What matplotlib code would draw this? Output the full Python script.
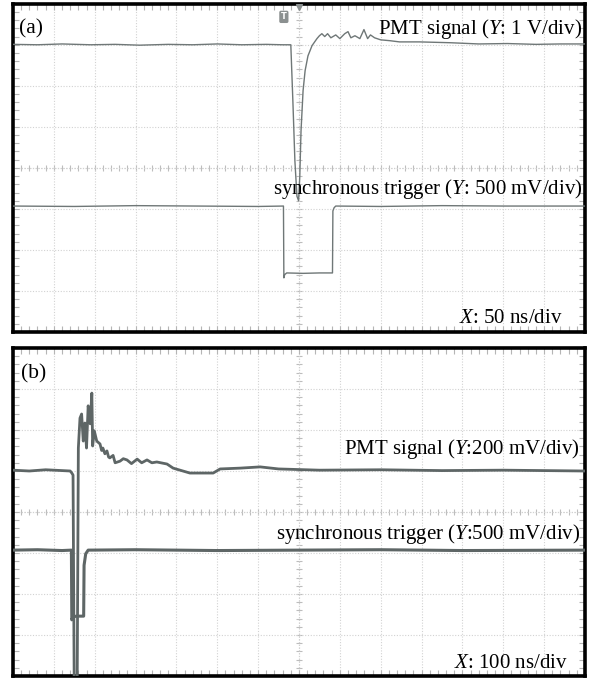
import matplotlib.pyplot as plt
import numpy as np

plt.rcParams['font.family'] = ['Liberation Serif', 'DejaVu Serif']
plt.rcParams['mathtext.fontset'] = 'custom'
plt.rcParams['mathtext.rm'] = 'Liberation Serif'
plt.rcParams['mathtext.it'] = 'Liberation Serif:italic'

# values in screen divisions (x: -7..7, y: -4..4)
pmt_a_x = [-7.0, -6.4, -5.8, -5.1, -4.5, -3.9, -3.2, -2.6, -2.0, -1.4, -0.8, -0.4,
           -0.2, -0.15, -0.1, -0.05, -0.01, 0.02, 0.05, 0.1, 0.15, 0.22, 0.32, 0.44,
           0.5, 0.56, 0.63, 0.7, 0.78, 0.9, 1.0, 1.12, 1.2, 1.27, 1.37, 1.49, 1.59,
           1.68, 1.75, 1.85, 2.0, 2.22, 2.46, 2.95, 3.7, 4.4, 5.1, 5.8, 6.4, 7.0]
pmt_a_y = [3.01, 3.0, 3.02, 3.0, 3.01, 2.99, 3.01, 3.0, 3.02, 3.0, 3.01, 3.0,
           3.0, 1.64, 0.17, -0.69, -0.8, -0.2, 0.9, 1.88, 2.37, 2.73, 2.98, 3.15,
           3.22, 3.27, 3.2, 3.27, 3.17, 3.24, 3.15, 3.27, 3.32, 3.17, 3.22, 3.15, 3.37,
           3.15, 3.24, 3.17, 3.12, 3.1, 3.07, 3.07, 3.05, 3.02, 3.03, 3.01, 3.02, 3.02]

trig_a_x = [-7.0, -5.5, -4.0, -2.5, -1.0, -0.38, -0.37, -0.35, -0.3, 0.1, 0.5, 0.82,
            0.83, 0.86, 0.9, 2.0, 3.5, 5.0, 7.0]
trig_a_y = [-0.93, -0.94, -0.92, -0.93, -0.94, -0.93, -2.68, -2.6, -2.56, -2.57, -2.56, -2.56,
            -1.05, -0.97, -0.93, -0.94, -0.92, -0.93, -0.93]

pmt_b_x = [-7.0, -6.6, -6.2, -5.8, -5.6, -5.56, -5.53, -5.5, -5.43, -5.4, -5.36, -5.32,
           -5.28, -5.24, -5.2, -5.16, -5.11, -5.07, -5.05, -5.01, -4.95, -4.87, -4.83,
           -4.8, -4.75, -4.7, -4.66, -4.63, -4.55, -4.5, -4.38, -4.3, -4.21, -4.1, -3.96,
           -3.85, -3.72, -3.6, -3.48, -3.23, -3.08, -2.91, -2.67, -2.25, -2.1, -1.93,
           -1.44, -0.95, -0.5, 0.5, 2.0, 3.5, 5.0, 7.0]
pmt_b_y = [1.02, 1.0, 1.03, 1.01, 1.0, 0.95, 0.9, -4.5, -4.5, 1.56, 2.29, 2.39,
           1.73, 2.17, 1.56, 2.59, 2.15, 2.9, 1.61, 1.98, 1.73, 1.66, 1.5,
           1.56, 1.42, 1.49, 1.34, 1.32, 1.38, 1.2, 1.24, 1.3, 1.27, 1.18, 1.29,
           1.2, 1.27, 1.2, 1.22, 1.17, 1.07, 1.02, 0.95, 0.95, 0.95, 1.05,
           1.07, 1.1, 1.05, 1.02, 1.03, 1.01, 1.02, 1.0]

trig_b_x = [-7.0, -6.4, -5.8, -5.57, -5.56, -5.53, -5.45, -5.27, -5.26, -5.22, -5.16,
            -4.0, -2.0, 0.0, 2.0, 4.0, 7.0]
trig_b_y = [-0.93, -0.92, -0.94, -0.93, -2.63, -2.56, -2.54, -2.54, -1.3, -1.02, -0.93,
            -0.92, -0.94, -0.93, -0.92, -0.94, -0.93]

fig = plt.figure(figsize=(5.9, 6.79), dpi=100)


def scope(rect):
    ax = fig.add_axes(rect)
    ax.set_xlim(-7, 7)
    ax.set_ylim(-4, 4)
    ax.set_xticks(np.arange(-7, 8, 1))
    ax.set_yticks(np.arange(-4, 5, 1))
    ax.set_xticks(np.arange(-7, 7.01, 0.2), minor=True)
    ax.set_yticks(np.arange(-4, 4.01, 0.2), minor=True)
    ax.set_xticklabels([])
    ax.set_yticklabels([])
    ax.tick_params(which='both', direction='in', length=4, width=0.8,
                   color='#b5b5b5', top=True, right=True)
    ax.grid(which='major', color='#d2d2d2', ls=(0, (1, 1.5)), lw=0.8)
    for s in ax.spines.values():
        s.set_linewidth(2.6)
        s.set_color('black')
    # centre cross with its small ticks
    ax.axhline(0, color='#c8c8c8', ls=(0, (1, 1.5)), lw=0.8, zorder=1)
    ax.axvline(0, color='#c8c8c8', ls=(0, (1, 1.5)), lw=0.8, zorder=1)
    ax.plot(np.arange(-7, 7.01, 0.2), np.zeros(71), ls='none', marker='|',
            ms=5, mew=0.8, color='#bdbdbd', zorder=1)
    ax.plot(np.zeros(41), np.arange(-4, 4.01, 0.2), ls='none', marker='_',
            ms=5, mew=0.8, color='#bdbdbd', zorder=1)
    return ax


fs = 15

ax1 = scope([0.022, 0.511, 0.9695, 0.4835])
ax1.plot(pmt_a_x, pmt_a_y, color='#6f7777', lw=1.0, zorder=3)
ax1.plot(trig_a_x, trig_a_y, color='#6f7777', lw=1.0, zorder=3)
ax1.text(-0.37, 3.68, 'T', color='white', fontsize=6, ha='center', va='center',
         family='DejaVu Sans', fontweight='bold',
         bbox=dict(boxstyle='round,pad=0.2', fc='#8b9090', ec='none'), zorder=4)
ax1.plot([0], [3.92], marker='v', ms=5, color='#8b9090', zorder=4)
ax1.text(-6.85, 3.38, '(a)', fontsize=fs + 0.5, ha='left', va='center')
ax1.text(6.93, 3.27, 'PMT signal ($\\it{Y}$: 1 V/div)', fontsize=fs,
         ha='right', va='baseline')
ax1.text(6.93, -0.63, 'synchronous trigger ($\\it{Y}$: 500 mV/div)', fontsize=fs,
         ha='right', va='baseline')
ax1.text(6.46, -3.78, '$\\it{X}$: 50 ns/div', fontsize=fs, ha='right', va='baseline')

ax2 = scope([0.022, 0.0044, 0.9695, 0.4831])
ax2.plot(pmt_b_x, pmt_b_y, color='#5e6666', lw=2.0, zorder=3)
ax2.plot(trig_b_x, trig_b_y, color='#5e6666', lw=2.2, zorder=3)
ax2.text(-6.8, 3.38, '(b)', fontsize=fs + 0.5, ha='left', va='center')
ax2.text(6.88, 1.41, 'PMT signal ($\\it{Y}$:200 mV/div)', fontsize=fs,
         ha='right', va='baseline')
ax2.text(6.88, -0.66, 'synchronous trigger ($\\it{Y}$:500 mV/div)', fontsize=fs,
         ha='right', va='baseline')
ax2.text(6.58, -3.8, '$\\it{X}$: 100 ns/div', fontsize=fs, ha='right', va='baseline')

fig.savefig('out.png', dpi=100)
